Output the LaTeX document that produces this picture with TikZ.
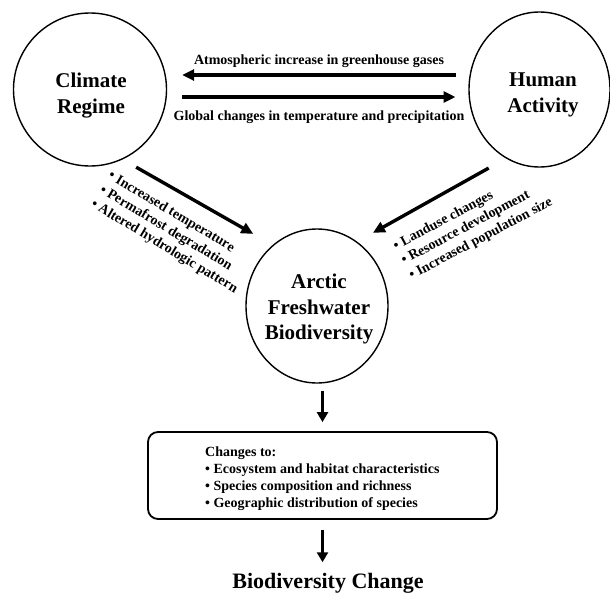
\documentclass[tikz,border=0pt]{standalone}
\usepackage{fontspec}
\setmainfont{Liberation Serif}
\usetikzlibrary{arrows.meta,shapes.geometric,calc}
\begin{document}
\begin{tikzpicture}[x=1pt,y=-1pt,
  blob/.style={ellipse,draw,line width=1.4pt,inner sep=0pt},
  bigarrow/.style={line width=3.4pt,-{Triangle[length=12pt,width=11pt]}},
  downarrow/.style={line width=3.4pt,-{Triangle[length=10pt,width=11pt]}},
  lbl/.style={font=\fontsize{14}{16.7}\selectfont\bfseries,inner sep=0pt},
  big/.style={font=\fontsize{21}{26}\selectfont\bfseries,inner sep=0pt,align=center},
]
\useasboundingbox (0,0) rectangle (610,592);

\node[blob,minimum width=153pt,minimum height=153pt] (climate) at (90,89.5) {};
\node[blob,minimum width=141pt,minimum height=155pt] (human) at (539.5,89.5) {};
\node[blob,minimum width=142pt,minimum height=154pt] (arctic) at (317,306) {};
\node[big] (climatetxt) at (91,95.5) {Climate\\Regime};
\node[big] (humantxt) at (543,95) {Human\\Activity};
\node[big,font=\fontsize{21}{25.5}\selectfont\bfseries] (arctictxt) at (319,309) {Arctic\\Freshwater\\Biodiversity};

\coordinate (ya) at (0,75);
\coordinate (yb) at (0,97);
\draw[bigarrow,shorten <=12.8pt,shorten >=15pt] (human.west |- ya) -- (climate.east |- ya);
\draw[bigarrow,shorten <=15pt,shorten >=12.8pt] (climate.east |- yb) -- (human.west |- yb);
\node[lbl] (atm) at (319,61) {Atmospheric increase in greenhouse gases};
\node[lbl] (glob) at (319,117) {Global changes in temperature and precipitation};

\draw[bigarrow,shorten <=15.6pt,shorten >=22.3pt] (climate.-65.7) -- (arctic.126.7);
\draw[bigarrow,shorten <=19.7pt,shorten >=18pt] (human.-116.9) -- (arctic.58.4);

\node[lbl,align=left,rotate=-31,anchor=north west] (cl) at (112.6,169.3)
  {\textbullet\ Increased temperature\\\textbullet\ Permafrost degradation\\\textbullet\ Altered hydrologic pattern};
\node[lbl,align=left,rotate=28,anchor=north west] (hl) at (391.4,241.4)
  {\textbullet\ Landuse changes\\\textbullet\ Resource development\\\textbullet\ Increased population size};

\node[draw,rounded corners=10pt,line width=1.8pt,minimum width=349pt,minimum height=87pt,inner sep=0pt]
  (box) at (322.5,475.5) {};
\node[lbl,align=left,anchor=north west] (boxtxt) at (205,447)
  {Changes to:\\\textbullet\ Ecosystem and habitat characteristics\\\textbullet\ Species composition and richness\\\textbullet\ Geographic distribution of species};

\node[big,font=\fontsize{22}{26}\selectfont\bfseries] (bchange) at (328,583) {Biodiversity Change};

\draw[downarrow,shorten <=7pt,shorten >=9pt] (arctic.south -| box.north) -- (box.north);
\draw[downarrow,shorten <=10pt,shorten >=10.5pt] (box.south) -- (bchange.north -| box.south);
\end{tikzpicture}
\end{document}
